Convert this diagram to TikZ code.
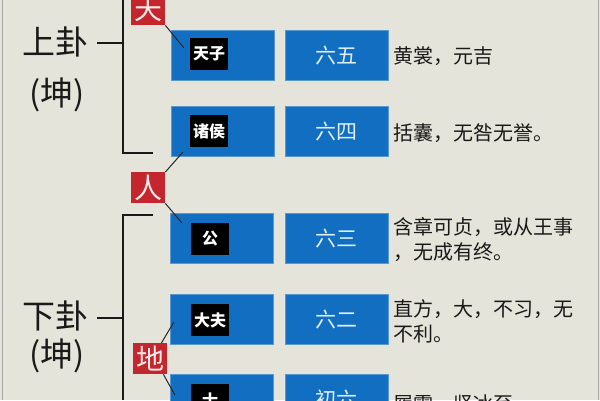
\documentclass[tikz,border=0pt]{standalone}
\usepackage{fontspec}
\setmainfont{Noto Sans CJK SC}
\newfontfamily\cjkb{Noto Sans CJK SC}[BoldFont={Noto Sans CJK SC Bold}]
\definecolor{bgc}{RGB}{229,228,218}
\definecolor{blueb}{RGB}{18,110,192}
\definecolor{redb}{RGB}{196,38,46}
\definecolor{lbl}{RGB}{222,240,252}
\definecolor{txt}{RGB}{25,25,25}
\begin{document}
\begin{tikzpicture}[x=1pt,y=-1pt,
  bluebox/.style={fill=blueb,draw=blueb!70!white,line width=0.6pt,minimum width=103pt,minimum height=50pt,inner sep=0pt,anchor=north west,text=lbl,font=\fontsize{21}{21}\selectfont},
  blackbox/.style={fill=black,minimum width=38pt,minimum height=32pt,inner sep=0pt,text=white,font=\fontsize{16}{16}\selectfont\bfseries},
  redbox/.style={fill=redb,minimum width=34pt,minimum height=31pt,inner sep=0pt,anchor=north west,text=white!92!red,font=\fontsize{28}{28}\selectfont},
  gua/.style={font=\fontsize{33}{33}\selectfont,text=txt},
  desc/.style={anchor=west,align=left,inner sep=0pt,text=txt,font=\fontsize{20}{25}\selectfont},
  link/.style={draw=black!85,line width=1pt},
  brk/.style={draw=black!90,line width=1.4pt}]
\useasboundingbox (0,0) rectangle (600,400);
\clip (0,0) rectangle (600,400);
\fill[bgc] (0,0) rectangle (600,400);
\draw[gray!70,line width=1pt] (2,0) -- (2,400);
\draw[gray!70,line width=1pt] (598,0) -- (598,400);

% left labels
\node[gua] (shang) at (56,42) {上卦};
\node[gua] (kun1) at (57,95) {(坤)};
\node[gua] (xia) at (56,316) {下卦};
\node[gua] (kun2) at (57,356) {(坤)};

% brackets
\coordinate (b1top) at (123,0);
\coordinate (b1bot) at (123,153);
\coordinate (b1end) at (153,153);
\coordinate (b1tick) at (97,43);
\coordinate (b1mid) at (123,43);
\draw[brk] (b1top) -- (b1bot) -- (b1end);
\draw[brk] (b1tick) -- (b1mid);
\coordinate (b2top) at (153,215);
\coordinate (b2c) at (123,215);
\coordinate (b2bot) at (123,400);
\coordinate (b2tick) at (97,318);
\coordinate (b2mid) at (123,318);
\draw[brk] (b2top) -- (b2c) -- (b2bot);
\draw[brk] (b2tick) -- (b2mid);

% blue boxes
\node[bluebox] (l1) at (171,30) {};
\node[bluebox] (r1) at (285,30) {六五};
\node[bluebox] (l2) at (171,106) {};
\node[bluebox] (r2) at (285,106) {六四};
\node[bluebox] (l3) at (170,213) {};
\node[bluebox] (r3) at (285,213) {六三};
\node[bluebox] (l4) at (170,294) {};
\node[bluebox] (r4) at (285,294) {六二};
\node[bluebox] (l5) at (170,374) {};
\node[bluebox] (r5) at (285,374) {初六};

% black labels
\node[blackbox] (k1) at (209,54) {天子};
\node[blackbox] (k2) at (209,131) {诸侯};
\node[blackbox] (k3) at (210,239) {公};
\node[blackbox] (k4) at (210,320) {大夫};
\node[blackbox] (k5) at (210,400) {士};

% red boxes
\node[redbox] (tian) at (131,-6) {天};
\node[redbox] (ren) at (131,172) {人};
\node[redbox] (di) at (133,343) {地};

% links
\draw[link] (tian.south east) -- ([shift={(-6,10)}]k1.north west);
\draw[link] (ren.north east) -- ([shift={(-7,5)}]k2.south west);
\draw[link] (ren.south east) -- ([shift={(-9,0)}]k3.north west);
\draw[link] ([xshift=-6pt]di.north east) -- ([shift={(-17,-14)}]k4.south west);
\draw[link] ([xshift=-4pt]di.south east) -- ([shift={(-16,11)}]k5.north west);

% descriptions
\node[desc] (d1) at (393,56) {黄裳，元吉};
\node[desc] (d2) at (393,133) {括囊，无咎无誉。};
\node[desc] (d3) at (393,240) {含章可贞，或从王事\\，无成有终。};
\node[desc] (d4) at (393,321) {直方，大，不习，无\\不利。};
\node[desc] (d5) at (393,404) {履霜，坚冰至。};
\end{tikzpicture}
\end{document}
